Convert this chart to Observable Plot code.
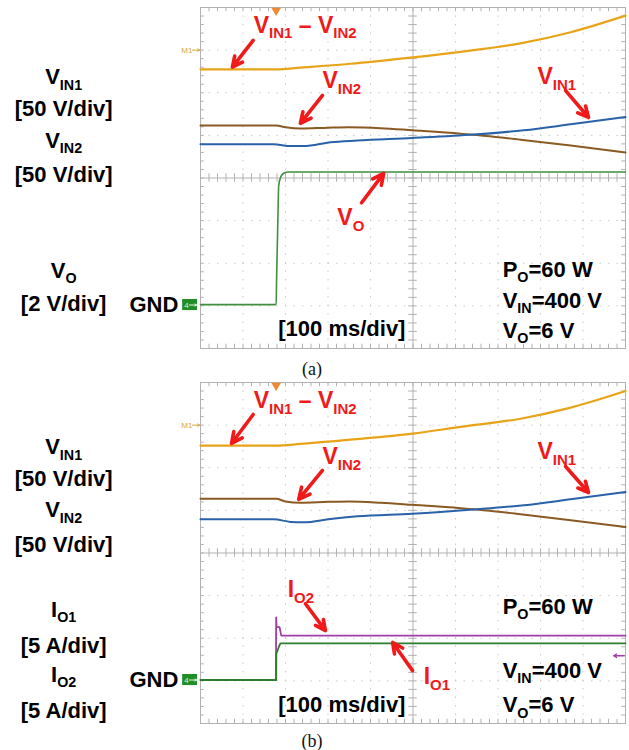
<!DOCTYPE html>
<html><head><meta charset="utf-8">
<script src="https://cdn.jsdelivr.net/npm/d3@7"></script>
<script src="https://cdn.jsdelivr.net/npm/@observablehq/plot@0.6"></script>
<style>
body{margin:0;background:#fff;}
.block{width:629px;height:375px;position:relative;overflow:visible;}
.block svg{display:block;}
.cap{position:absolute;z-index:5;left:0;width:624px;text-align:center;font-family:"Liberation Serif","Times New Roman",serif;font-size:18px;line-height:18px;color:#111;}
</style></head><body>
<div id="a" class="block"></div>
<div id="b" class="block"></div>
<script>
// ---- Data (time in ms, 100 ms/div; trace level in screen divisions, centre = 0) ----
// Panel (a)
const diffA_t = [0, 178, 235, 353, 499, 612, 753, 871, 1000];
const diffA_v = [2.55, 2.55, 2.59, 2.68, 2.83, 2.96, 3.16, 3.42, 3.81];
const vin2A_t = [0, 178, 200, 235, 300, 350, 424, 499, 612, 680, 753, 871, 1000];
const vin2A_v = [1.23, 1.23, 1.19, 1.16, 1.18, 1.19, 1.17, 1.12, 1.04, 0.98, 0.90, 0.76, 0.60];
const vin1A_t = [0, 172, 212, 243, 306, 369, 498, 643, 761, 871, 1000];
const vin1A_v = [0.79, 0.79, 0.75, 0.75, 0.84, 0.88, 0.94, 1.02, 1.12, 1.26, 1.43];
const voA_t = [0, 178, 179, 182, 184, 188, 194, 205, 1000];
const voA_v = [-2.97, -2.97, -2.4, -1.0, -0.18, 0.0, 0.1, 0.14, 0.14];
// Panel (b)
const diffB_t = [0, 178, 235, 353, 499, 612, 753, 871, 1000];
const diffB_v = [2.52, 2.52, 2.56, 2.66, 2.80, 2.96, 3.15, 3.41, 3.80];
const vin2B_t = [0, 178, 200, 235, 300, 350, 424, 499, 612, 680, 753, 871, 1000];
const vin2B_v = [1.27, 1.27, 1.21, 1.18, 1.20, 1.21, 1.18, 1.13, 1.05, 0.99, 0.91, 0.77, 0.61];
const vin1B_t = [0, 172, 212, 243, 306, 369, 498, 643, 761, 871, 1000];
const vin1B_v = [0.79, 0.79, 0.73, 0.72, 0.80, 0.86, 0.92, 1.02, 1.12, 1.26, 1.43];
const io2B_t = [0, 177.5, 178, 179, 186, 190, 1000];
const io2B_v = [-2.98, -2.98, -1.51, -1.74, -1.74, -1.94, -1.94];
const io1B_t = [0, 178, 178.5, 184, 188, 1000];
const io1B_v = [-2.98, -2.98, -2.36, -2.21, -2.12, -2.12];
// Labels
const leftLabelsA = ["V_{IN1}", "[50 V/div]", "V_{IN2}", "[50 V/div]", "V_{O}", "[2 V/div]"];
const leftLabelsB = ["V_{IN1}", "[50 V/div]", "V_{IN2}", "[50 V/div]", "I_{O1}", "[5 A/div]", "I_{O2}", "[5 A/div]"];
const condLabels = ["P_{O}=60 W", "V_{IN}=400 V", "V_{O}=6 V"];
const timeLabel = "[100 ms/div]";

// ---- helpers ----
const zip = (t, v) => t.map((x, i) => ({t: x, v: v[i]}));
const FONT = "Liberation Sans, Arial, Helvetica, sans-serif";
const RED = "#f01a1a";
const C = {diff: "#e8a317", vin2: "#8b5a22", vin1: "#2a62aa", vo: "#3f8f3f", io1: "#2e7d2e", io2: "#a23ca8"};
const gridX = d3.range(100, 1000, 100).filter(d => d !== 500);
const gridY = d3.range(-3, 4, 1).filter(d => d !== 0);
const minorX = d3.range(0, 1001, 20);
const minorY = d3.range(-4, 4.001, 0.2);
const GRID = "#c6c6c6", AXIS = "#b2b2b2";

function frameMarks() {
  return [
    Plot.ruleX(gridX, {stroke: GRID, strokeDasharray: "1.4,7.1"}),
    Plot.ruleY(gridY, {stroke: GRID, strokeDasharray: "1.4,7.1"}),
    Plot.ruleX([500], {stroke: AXIS}),
    Plot.ruleY([0], {stroke: AXIS}),
    Plot.ruleX(minorX, {y1: -0.1, y2: 0.1, stroke: AXIS}),
    Plot.ruleX(minorX, {y1: 3.9, y2: 4, stroke: AXIS}),
    Plot.ruleX(minorX, {y1: -4, y2: -3.9, stroke: AXIS}),
    Plot.ruleY(minorY, {x1: 490, x2: 510, stroke: AXIS}),
    Plot.ruleY(minorY, {x1: 0, x2: 9, stroke: AXIS}),
    Plot.ruleY(minorY, {x1: 991, x2: 1000, stroke: AXIS}),
    Plot.frame({stroke: AXIS}),
    // trigger marker, M1 marker, ground marker
    Plot.dot([{t: 178, v: 3.93}], {x: "t", y: "v", symbol: "triangle", r: 3.6, rotate: 180, fill: "#f08a30", stroke: "none"}),
    Plot.text([{t: -19, v: 3.0, s: "M1"}], {x: "t", y: "v", text: "s", textAnchor: "end", fontSize: 8, fill: "#d8a838", fontFamily: FONT}),
    Plot.arrow([{a: -19, b: -2, v: 3.0}], {x1: "a", x2: "b", y1: "v", y2: "v", stroke: "#d8a838", strokeWidth: 1, headLength: 4}),
    Plot.rect([{a: -42, b: -7, v: -2.98}], {x1: "a", x2: "b", y1: d => d.v - 0.13, y2: d => d.v + 0.13, fill: "#1f8f25"}),
    Plot.text([{t: -33, v: -2.98, s: "4"}], {x: "t", y: "v", text: "s", fontSize: 8, fill: "#dff0df", fontFamily: FONT}),
    Plot.arrow([{a: -26, b: -9, v: -2.98}], {x1: "a", x2: "b", y1: "v", y2: "v", stroke: "#e8f5e8", strokeWidth: 1, headLength: 3}),
    Plot.text([{t: -52, v: -2.98, s: "GND"}], {x: "t", y: "v", text: "s", textAnchor: "end", fontSize: 22, fontWeight: "bold", fontFamily: FONT, fill: "#000"})
  ];
}

function trace(data, color, w, curve) {
  return Plot.line(data, {x: "t", y: "v", stroke: color, strokeWidth: w, curve: curve || "monotone-x"});
}
function labels(items, opts) {
  return Plot.text(items, {x: "x", y: "y", text: "s", fontFamily: FONT, fontWeight: "bold", ...opts});
}
function arrows(items) {
  return Plot.arrow(items, {x1: "x1", y1: "y1", x2: "x2", y2: "y2", stroke: RED, strokeWidth: 3.6, headLength: 8, headAngle: 52});
}

function subs(svg) {
  const ns = "http://www.w3.org/2000/svg";
  svg.querySelectorAll("text").forEach(t => {
    const s = t.textContent;
    if (!s.includes("_{")) return;
    const g = t.closest("[font-size]");
    const fs = parseFloat((g && g.getAttribute("font-size")) || 22);
    const parts = s.split(/(_\{[^}]*\})/).filter(p => p.length);
    t.textContent = "";
    let shifted = false;
    for (const p of parts) {
      const ts = document.createElementNS(ns, "tspan");
      if (p.startsWith("_{")) {
        ts.textContent = p.slice(2, -1);
        ts.setAttribute("font-size", (fs * 0.65).toFixed(1));
        ts.setAttribute("dy", (fs * 0.24).toFixed(1));
        shifted = true;
      } else {
        ts.textContent = p;
        if (shifted) { ts.setAttribute("dy", (-fs * 0.24).toFixed(1)); shifted = false; }
      }
      t.appendChild(ts);
    }
  });
}

function scope(marks) {
  const svg = Plot.plot({
    width: 629, height: 356,
    marginLeft: 200, marginRight: 4, marginTop: 7, marginBottom: 8,
    x: {domain: [0, 1000], axis: null},
    y: {domain: [-4, 4], axis: null},
    style: {background: "white", overflow: "visible"},
    marks: [...frameMarks(), ...marks]
  });
  subs(svg);
  return svg;
}

// ---- Panel (a) ----
const svgA = scope([
  trace(zip(voA_t, voA_v), C.vo, 1.6),
  trace(zip(vin2A_t, vin2A_v), C.vin2, 2),
  trace(zip(vin1A_t, vin1A_v), C.vin1, 2),
  trace(zip(diffA_t, diffA_v), C.diff, 2.2),
  labels(leftLabelsA.map((s, i) => ({s, x: -322, y: [2.36, 1.61, 0.88, 0.08, -2.17, -2.95][i]})), {fontSize: 22, fill: "#000"}),
  labels(condLabels.map((s, i) => ({s, x: 711, y: [-2.16, -2.88, -3.58][i]})), {fontSize: 22, fill: "#000", textAnchor: "start"}),
  labels([{s: timeLabel, x: 183, y: -3.54}], {fontSize: 22, fill: "#000", textAnchor: "start"}),
  labels([
    {s: "V_{IN1} – V_{IN2}", x: 125, y: 3.58},
    {s: "V_{IN2}", x: 287, y: 2.28},
    {s: "V_{IN1}", x: 793, y: 2.37},
    {s: "V_{O}", x: 322, y: -0.94}
  ], {fontSize: 23, fill: RED, textAnchor: "start"}),
  arrows([
    {x1: 124, y1: 3.23, x2: 75, y2: 2.60},
    {x1: 287, y1: 1.94, x2: 235, y2: 1.28},
    {x1: 859, y1: 2.05, x2: 913, y2: 1.42},
    {x1: 379, y1: -0.58, x2: 431, y2: 0.11}
  ])
]);
document.getElementById("a").appendChild(svgA);
const capA = document.createElement("div");
capA.className = "cap"; capA.style.top = "360px"; capA.textContent = "(a)";
document.getElementById("a").appendChild(capA);

// ---- Panel (b) ----
const svgB = scope([
  trace(zip(io2B_t, io2B_v), C.io2, 1.8, "linear"),
  trace(zip(io1B_t, io1B_v), C.io1, 1.8, "linear"),
  Plot.arrow([{a: 997, b: 972, v: -2.41}], {x1: "a", x2: "b", y1: "v", y2: "v", stroke: C.io2, strokeWidth: 1.3, headLength: 4}),
  trace(zip(vin2B_t, vin2B_v), C.vin2, 2),
  trace(zip(vin1B_t, vin1B_v), C.vin1, 2),
  trace(zip(diffB_t, diffB_v), C.diff, 2.2),
  labels(leftLabelsB.map((s, i) => ({s, x: -322, y: [2.48, 1.73, 1.00, 0.20, -1.33, -2.17, -2.85, -3.70][i]})), {fontSize: 22, fill: "#000"}),
  labels(condLabels.map((s, i) => ({s, x: 711, y: [-1.27, -2.77, -3.57][i]})), {fontSize: 22, fill: "#000", textAnchor: "start"}),
  labels([{s: timeLabel, x: 183, y: -3.57}], {fontSize: 22, fill: "#000", textAnchor: "start"}),
  labels([
    {s: "V_{IN1} – V_{IN2}", x: 125, y: 3.57},
    {s: "V_{IN2}", x: 287, y: 2.25},
    {s: "V_{IN1}", x: 793, y: 2.37},
    {s: "I_{O2}", x: 205, y: -0.87},
    {s: "I_{O1}", x: 525, y: -2.91}
  ], {fontSize: 23, fill: RED, textAnchor: "start"}),
  arrows([
    {x1: 124, y1: 3.25, x2: 73, y2: 2.57},
    {x1: 287, y1: 1.94, x2: 231, y2: 1.26},
    {x1: 859, y1: 2.03, x2: 913, y2: 1.42},
    {x1: 247, y1: -1.19, x2: 294, y2: -1.82},
    {x1: 499, y1: -2.76, x2: 452, y2: -2.10}
  ])
]);
document.getElementById("b").appendChild(svgB);
const capB = document.createElement("div");
capB.className = "cap"; capB.style.top = "357px"; capB.textContent = "(b)";
document.getElementById("b").appendChild(capB);
</script>
</body></html>
